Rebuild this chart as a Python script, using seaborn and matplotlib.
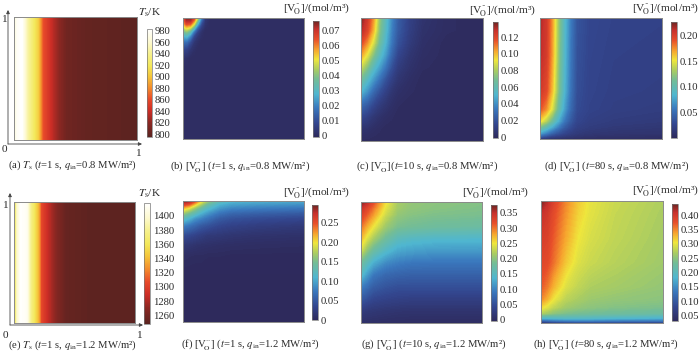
import numpy as np
import pandas as pd
import matplotlib
matplotlib.use("Agg")
import matplotlib.pyplot as plt
from matplotlib.colors import LinearSegmentedColormap
from matplotlib.patches import FancyArrowPatch
import seaborn as sns

W, H = 700, 358
sns.set_theme(style="white")
plt.rcParams.update({"font.family": ["Liberation Serif", "DejaVu Serif"], "mathtext.fontset": "stix",
                     "font.size": 8.2, "text.color": "#2a2a2a"})

JET = LinearSegmentedColormap.from_list("jetish", [
    (0.00, "#2e2a5c"), (0.12, "#33468f"), (0.25, "#3a78bd"), (0.37, "#4fb6d0"), (0.50, "#74bd95"),
    (0.58, "#a9cc62"), (0.67, "#efe63c"), (0.75, "#f6a52e"), (0.84, "#e8502a"), (0.93, "#c7302c"), (1.00, "#6b2522")], N=512)
HOT = LinearSegmentedColormap.from_list("hotish", [
    (0.00, "#5a2320"), (0.13, "#8a2722"), (0.24, "#cc2d26"), (0.35, "#e84a2a"), (0.45, "#f3892c"),
    (0.56, "#f4c53a"), (0.66, "#f3e85a"), (0.77, "#f6f08c"), (0.88, "#fdf9d0"), (1.00, "#ffffff")], N=512)

# ---- temperature panels, profile along x (independent of y)
ta_x = [0, .03, .06, .10, .15, .19, .21, .23, .28, .34, .42, .60, 1]
ta_T = [955, 978, 982, 950, 925, 905, 885, 862, 845, 825, 806, 800, 796]
te_x = [0, .01, .03, .06, .10, .13, .17, .20, .22, .28, .34, .42, .60, 1]
te_T = [1335, 1350, 1395, 1416, 1412, 1380, 1355, 1335, 1305, 1285, 1268, 1254, 1250, 1249]

# ---- concentration panels: rows top to bottom, columns left to right
b_x = [0, .03, .06, .09, .12, .15, .18, .22, 1]
b_y = [0, .02, .05, .08, .11, .15, .20, .26, .33, .42, 1]
b_v = [[.060, .074, .074, .066, .045, .020, .004, .0005, 0],
       [.058, .072, .072, .060, .038, .015, .003, 0, 0],
       [.052, .064, .062, .048, .026, .009, .002, 0, 0],
       [.044, .052, .048, .032, .014, .005, .001, 0, 0],
       [.036, .041, .034, .018, .007, .002, 0, 0, 0],
       [.026, .028, .020, .008, .003, .001, 0, 0, 0],
       [.016, .015, .009, .003, .001, 0, 0, 0, 0],
       [.008, .006, .003, .001, 0, 0, 0, 0, 0],
       [.002, .001, 0, 0, 0, 0, 0, 0, 0],
       [0, 0, 0, 0, 0, 0, 0, 0, 0],
       [0, 0, 0, 0, 0, 0, 0, 0, 0]]

c_x = [0, .05, .10, .15, .20, .25, .30, .40, .50, .70, 1]
c_y = [0, .10, .20, .30, .40, .50, .60, .70, .80, .90, 1]
c_v = [[.135, .125, .105, .075, .056, .038, .024, .012, .005, .001, 0],
       [.130, .120, .100, .072, .054, .036, .023, .011, .004, .001, 0],
       [.118, .106, .088, .066, .050, .033, .020, .009, .003, 0, 0],
       [.103, .090, .072, .056, .043, .027, .015, .006, .002, 0, 0],
       [.085, .072, .056, .044, .032, .019, .010, .004, .001, 0, 0],
       [.066, .054, .042, .031, .020, .012, .006, .002, 0, 0, 0],
       [.050, .040, .028, .019, .012, .006, .003, .001, 0, 0, 0],
       [.030, .024, .016, .010, .006, .003, .001, 0, 0, 0, 0],
       [.016, .012, .007, .004, .002, .001, 0, 0, 0, 0, 0],
       [.005, .004, .002, .001, 0, 0, 0, 0, 0, 0, 0],
       [0, 0, 0, 0, 0, 0, 0, 0, 0, 0, 0]]

d_x = [0, .05, .10, .15, .20, .25, .30, .40, .60, 1]
d_y = [0, .30, .60, .75, .85, .90, .95, .98, 1]
d_v = [[.215, .205, .172, .125, .088, .058, .036, .027, .024, .023],
       [.213, .203, .170, .123, .086, .056, .034, .026, .023, .022],
       [.205, .195, .162, .118, .083, .053, .032, .025, .022, .021],
       [.190, .175, .145, .105, .073, .048, .030, .024, .021, .019],
       [.155, .135, .108, .080, .055, .038, .026, .021, .018, .016],
       [.115, .098, .078, .058, .040, .030, .022, .018, .015, .013],
       [.075, .060, .045, .034, .026, .020, .016, .013, .011, .010],
       [.040, .030, .022, .018, .014, .012, .010, .008, .007, .006],
       [.010, .008, .006, .005, .004, .004, .003, .003, .003, .003]]

f_x = [0, .05, .10, .15, .20, .30, .40, .60, 1]
f_y = [0, .03, .06, .10, .14, .20, .28, .36, .45, .60, 1]
f_v = [[.290, .285, .250, .200, .165, .125, .110, .105, .100],
       [.255, .240, .200, .165, .135, .105, .095, .090, .085],
       [.210, .190, .160, .135, .115, .090, .080, .075, .070],
       [.165, .145, .125, .105, .090, .070, .060, .055, .050],
       [.125, .110, .090, .080, .070, .052, .045, .040, .035],
       [.080, .070, .060, .050, .045, .035, .030, .025, .020],
       [.040, .035, .030, .025, .020, .018, .015, .012, .010],
       [.018, .015, .012, .010, .009, .007, .006, .005, .004],
       [.005, .004, .003, .003, .002, .002, .001, .001, .001],
       [0, 0, 0, 0, 0, 0, 0, 0, 0],
       [0, 0, 0, 0, 0, 0, 0, 0, 0]]

g_x = [0, .05, .10, .20, .30, .40, .60, 1]
g_y = [0, .05, .10, .20, .30, .40, .50, .60, .70, .80, .90, 1]
g_v = [[.370, .350, .320, .255, .215, .205, .200, .195],
       [.345, .325, .300, .245, .212, .203, .198, .193],
       [.330, .310, .285, .235, .205, .198, .193, .190],
       [.300, .275, .250, .210, .190, .185, .180, .175],
       [.270, .240, .215, .180, .155, .148, .142, .140],
       [.235, .200, .175, .145, .125, .120, .115, .115],
       [.180, .155, .130, .105, .095, .090, .088, .088],
       [.145, .115, .090, .075, .070, .068, .068, .068],
       [.095, .080, .065, .055, .050, .050, .050, .050],
       [.060, .050, .040, .035, .032, .030, .030, .030],
       [.025, .020, .018, .015, .013, .012, .012, .012],
       [.006, .005, .004, .003, .002, .002, .002, .002]]

h_x = [0, .05, .10, .20, .30, .40, .60, 1]
h_y = [0, .10, .30, .50, .70, .80, .87, .92, .96, .985, 1]
h_v = [[.435, .415, .390, .350, .320, .300, .285, .270],
       [.410, .400, .380, .345, .315, .298, .283, .268],
       [.395, .390, .370, .335, .305, .292, .280, .265],
       [.385, .380, .360, .320, .295, .285, .275, .262],
       [.370, .355, .330, .295, .280, .270, .265, .255],
       [.350, .330, .305, .278, .268, .260, .255, .250],
       [.310, .295, .280, .262, .255, .250, .245, .240],
       [.270, .260, .250, .240, .235, .232, .228, .222],
       [.180, .180, .185, .190, .190, .188, .182, .175],
       [.090, .100, .110, .120, .125, .125, .120, .115],
       [.040, .045, .050, .055, .055, .055, .055, .050]]

ticks_a = [800, 820, 840, 860, 880, 900, 920, 940, 960, 980]
ticks_b = [0, .01, .02, .03, .04, .05, .06, .07]
ticks_c = [0, .02, .04, .06, .08, .10, .12]
ticks_d = [.05, .10, .15, .20]
ticks_e = [1260, 1280, 1300, 1320, 1340, 1360, 1380, 1400]
ticks_f = [0, .05, .10, .15, .20, .25]
ticks_g = [0, .05, .10, .15, .20, .25, .30, .35]
ticks_h = [.05, .10, .15, .20, .25, .30, .35, .40]

VO = r"[V$^{\cdot\!\!\cdot}_{\!\!\mathrm{O}}$]"
UNIT = VO + "/(mol/m³)"
captions = {
 "a": r"(a) $T_{\mathrm{s}}$ ($t$=1 s, $q_{\mathrm{in}}$=0.8 MW/m²)",
 "b": "(b) " + VO + r" ($t$=1 s, $q_{\mathrm{in}}$=0.8 MW/m²)",
 "c": "(c) " + VO + r"($t$=10 s, $q_{\mathrm{in}}$=0.8 MW/m²)",
 "d": "(d) " + VO + r" ($t$=80 s, $q_{\mathrm{in}}$=0.8 MW/m²)",
 "e": r"(e) $T_{\mathrm{s}}$ ($t$=1 s, $q_{\mathrm{in}}$=1.2 MW/m²)",
 "f": "(f) " + VO + r" ($t$=1 s, $q_{\mathrm{in}}$=1.2 MW/m²)",
 "g": "(g) " + VO + r" ($t$=10 s, $q_{\mathrm{in}}$=1.2 MW/m²)",
 "h": "(h) " + VO + r" ($t$=80 s, $q_{\mathrm{in}}$=1.2 MW/m²)",
}

# panel: x, y, values, cmap, vmin, vmax, ticks, fmt, box px, cbar px, title, title centre px/y, caption centre px/y
TY = [0, 1]
panels = [
 ("a", ta_x, TY, [ta_T, ta_T], HOT, 795, 983, ticks_a, "{:.0f}", (14, 17, 137, 140), (147, 29, 152, 137), r"$T_{\mathrm{s}}$/K", (150, 13), (72, 165)),
 ("b", b_x, b_y, b_v, JET, -.001, .076, ticks_b, "{:g}", (183, 18, 304, 139), (313, 21, 319, 137), UNIT, (316, 9), (240, 167)),
 ("c", c_x, c_y, c_v, JET, -.001, .138, ticks_c, "{:.2f}", (361, 18, 483, 141), (493, 22, 498, 138), UNIT, (502, 10), (427, 167)),
 ("d", d_x, d_y, d_v, JET, 0, .227, ticks_d, "{:.2f}", (540, 18, 662, 139), (671, 22, 677, 138), UNIT, (665, 8), (617, 166)),
 ("e", te_x, TY, [te_T, te_T], HOT, 1248, 1418, ticks_e, "{:.0f}", (14, 202, 135, 323), (144, 203, 150, 324), r"$T_{\mathrm{s}}$/K", (150, 194), (72, 345)),
 ("f", f_x, f_y, f_v, JET, 0, .295, ticks_f, "{:.2f}", (183, 201, 304, 322), (312, 205, 318, 320), UNIT, (316, 193), (250, 345)),
 ("g", g_x, g_y, g_v, JET, -.004, .376, ticks_g, "{:.2f}", (361, 202, 482, 323), (491, 205, 497, 321), UNIT, (495, 192), (434, 345)),
 ("h", h_x, h_y, h_v, JET, .03, .44, ticks_h, "{:.2f}", (541, 201, 663, 323), (672, 204, 678, 321), UNIT, (665, 191), (606, 345)),
]

fig = plt.figure(figsize=(W / 100, H / 100), dpi=100, facecolor="white")


def px_axes(box):
    x0, y0, x1, y1 = box
    return fig.add_axes([x0 / W, 1 - y1 / H, (x1 - x0) / W, (y1 - y0) / H])


for key, xs, ys, vals, cmap, vmin, vmax, ticks, fmt, box, cbox, title, tpos, cpos in panels:
    ax, cax = px_axes(box), px_axes(cbox)
    frame = pd.DataFrame(vals, index=ys, columns=xs)
    sns.heatmap(frame, ax=ax, cbar_ax=cax, cmap=cmap, vmin=vmin, vmax=vmax,
                xticklabels=False, yticklabels=False, rasterized=True)
    ny, nx = frame.shape
    mesh = ax.collections[0]
    mesh.set_visible(False)
    # the same table drawn as a continuous field on its real, uneven grid
    cf = ax.contourf(np.array(xs) * nx, np.array(ys) * ny, frame.values,
                     levels=np.linspace(vmin, vmax, 160), cmap=cmap, vmin=vmin, vmax=vmax, extend="both")
    cf.set_edgecolor("face")
    cf.set_linewidth(0.2)
    ax.set_xlabel("")
    ax.set_ylabel("")
    for s in ax.spines.values():
        s.set_visible(True)
        s.set_color("#8a8a8a")
        s.set_linewidth(0.7)
    cb = mesh.colorbar
    cb.outline.set_visible(True)
    cb.outline.set_edgecolor("#777777")
    cb.outline.set_linewidth(0.5)
    cax.set_yticks(ticks)
    cax.set_yticklabels([("0" if t == 0 else fmt.format(t)) for t in ticks])
    cax.tick_params(axis="y", length=0, pad=2.2, labelsize=7.7, colors="#2a2a2a")
    fig.text(tpos[0] / W, 1 - tpos[1] / H, title, ha="center", va="center", fontsize=8.2)
    fig.text(cpos[0] / W, 1 - cpos[1] / H, captions[key], ha="center", va="center", fontsize=7.7)

# corner arrows of the two temperature panels
for bx, by, top, right in [(8, 144, 10, 142), (10, 325, 193, 143)]:
    for xy in [(bx, top), (right, by)]:
        fig.add_artist(FancyArrowPatch(
            (bx / W, 1 - by / H), (xy[0] / W, 1 - xy[1] / H), transform=fig.transFigure,
            arrowstyle="-|>", mutation_scale=5, lw=0.6, color="#444444", shrinkA=0, shrinkB=0))
for x, y, s in [(4, 20, "1"), (4, 150, "0"), (138, 153, "1"), (5, 205, "1"), (5, 335, "0"), (139, 335, "1")]:
    fig.text(x / W, 1 - y / H, s, ha="center", va="center", fontsize=8.2)

fig.savefig("out.png", dpi=100)
